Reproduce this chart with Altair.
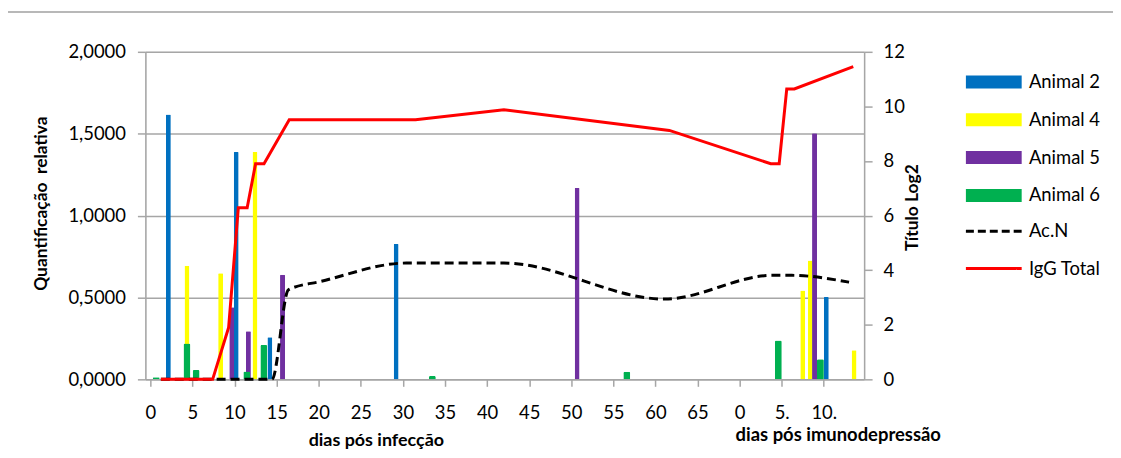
import altair as alt
import pandas as pd

FONT = "Lato"
FS = 18.5

# ---------------- data ----------------
tick_values = [0, 5, 10, 15, 20, 25, 30, 35, 40, 45, 50, 55, 60, 65, 70, 75, 80]
tick_labels = ["0", "5", "10", "15", "20", "25", "30", "35", "40", "45", "50",
               "55", "60", "65", "0", "5.", "10."]

series_names = ["Animal 2", "Animal 4", "Animal 5", "Animal 6"]
series_colors = ["#0070C0", "#FFFF00", "#7030A0", "#00B050"]

a2_days = [2.14, 10.2, 14.2, 29.2, 80.3]
a2_vals = [1.617, 1.388, 0.257, 0.827, 0.503]
a4_days = [4.35, 8.35, 12.43, 77.5, 78.4, 83.6]
a4_vals = [0.693, 0.648, 1.388, 0.543, 0.725, 0.178]
a5_days = [9.67, 11.65, 15.7, 50.7, 78.9]
a5_vals = [0.44, 0.294, 0.638, 1.169, 1.503]
a6_days = [0.7, 4.35, 5.44, 11.46, 13.48, 33.5, 56.6, 74.6, 79.6]
a6_vals = [0.012, 0.219, 0.057, 0.048, 0.209, 0.02, 0.047, 0.237, 0.122]

line_names = ["Ac.N", "IgG Total"]
line_colors = ["#000000", "#FF0000"]

acn_days = [1.25, 14.45, 16.4, 20.3, 30.4, 42.0, 61.1, 73.9, 76.2, 83.0]
acn_vals = [0, 0, 3.28, 3.59, 4.26, 4.26, 2.94, 3.81, 3.81, 3.56]
igg_days = [1.25, 7.4, 9.3, 10.45, 11.5, 12.5, 13.5, 16.5, 31.5, 42.0, 61.65,
            73.7, 74.7, 75.6, 76.5, 83.5]
igg_vals = [0, 0, 1.9, 6.29, 6.29, 7.9, 7.9, 9.51, 9.51, 9.88, 9.12, 7.9, 7.9,
            10.64, 10.64, 11.46]

left_ticks = [0, 0.5, 1.0, 1.5, 2.0]
right_ticks = [0, 2, 4, 6, 8, 10, 12]

# ---------------- tables ----------------
bar_rows = []
for name, days, vals in zip(series_names, [a2_days, a4_days, a5_days, a6_days],
                            [a2_vals, a4_vals, a5_vals, a6_vals]):
    for d, v in zip(days, vals):
        bar_rows.append({"dia": d, "valor": v, "serie": name})
bars_df = pd.DataFrame(bar_rows)

acn_df = pd.DataFrame({"dia": acn_days, "titulo": acn_vals, "serie": line_names[0],
                       "ordem": list(range(len(acn_days)))})
igg_df = pd.DataFrame({"dia": igg_days, "titulo": igg_vals, "serie": line_names[1],
                       "ordem": list(range(len(igg_days)))})

label_expr = "[" + ",".join("'%s'" % t for t in tick_labels) + "][round(datum.value/5)]"

GRID = "#A6A6A6"

x_enc = alt.X(
    "dia:Q",
    scale=alt.Scale(domain=[0, 84.2], nice=False, zero=False),
    axis=alt.Axis(
        values=tick_values, labelExpr=label_expr, grid=False,
        domainColor=GRID, domainWidth=1.5, tickColor=GRID, tickWidth=1.5,
        tickSize=7, labelPadding=17, labelFont=FONT, labelFontSize=FS,
        labelColor="#000000",
        title="dias pós infecção", titleFont=FONT, titleFontSize=18,
        titleFontWeight="bold", titleX=231.5, titleY=66,
        titleBaseline="alphabetic", titleAlign="center", titleColor="#000000",
    ),
)

y_left = alt.Y(
    "valor:Q",
    scale=alt.Scale(domain=[0, 2], nice=False),
    axis=alt.Axis(
        values=left_ticks,
        labelExpr="replace(format(datum.value, '.4f'), '.', ',')",
        grid=True, gridColor=GRID, gridWidth=1.5,
        domainColor=GRID, domainWidth=1.5, tickColor=GRID, tickWidth=1.5,
        tickSize=8, labelPadding=12, labelFont=FONT, labelFontSize=FS,
        labelColor="#000000",
        title="Quantificação\u00a0 relativa", titleFont=FONT, titleFontSize=17.5,
        titleFontWeight="bold", titleAngle=-90, titleX=-104, titleY=152,
        titleAlign="center", titleBaseline="middle", titleColor="#000000",
    ),
)

color_enc = alt.Color(
    "serie:N",
    scale=alt.Scale(domain=series_names, range=series_colors),
    legend=alt.Legend(
        title=None, orient="none", legendX=843, legendY=21,
        symbolType="M-4.31,-1H4.31V1H-4.31Z", symbolSize=169,
        symbolStrokeWidth=0, symbolOpacity=1, labelOffset=26,
        labelFont=FONT, labelFontSize=FS, labelColor="#000000",
        rowPadding=19, padding=0,
    ),
)

bars_main = alt.Chart(bars_df).transform_filter(
    alt.datum.serie != "Animal 6"
).mark_bar(size=5, opacity=1, cornerRadiusEnd=1).encode(x=x_enc, y=y_left, color=color_enc)

bars_green = alt.Chart(bars_df).transform_filter(
    alt.datum.serie == "Animal 6"
).mark_bar(size=7, opacity=1, cornerRadiusEnd=1.5).encode(x=x_enc, y=y_left, color=color_enc)

# chart-area frame (decoration)
frame_df = pd.DataFrame([{"k": 1}])
frame_top = alt.Chart(frame_df).mark_rule(color="#A0A0A0", strokeWidth=1.5).encode(
    x=alt.value(-140), x2=alt.value(980), y=alt.value(-40))
frame_left = alt.Chart(frame_df).mark_rule(color="#A0A0A0", strokeWidth=1.5).encode(
    x=alt.value(-140), x2=alt.value(-140), y=alt.value(-40), y2=alt.value(420))

sub_title = alt.Chart(pd.DataFrame([{"t": "dias pós imunodepressão"}])).mark_text(
    font=FONT, fontSize=18.5, fontWeight="bold", align="center",
    baseline="alphabetic", color="#000000",
).encode(text="t:N", x=alt.value(696), y=alt.value(391))

left_layer = alt.layer(frame_top, frame_left, bars_main, bars_green, sub_title)

y_right = alt.Y(
    "titulo:Q",
    scale=alt.Scale(domain=[0, 12], nice=False),
    axis=alt.Axis(
        orient="right", values=right_ticks, grid=False,
        domainColor=GRID, domainWidth=1.5, tickColor=GRID, tickWidth=1.5,
        tickSize=8, labelPadding=11, labelFont=FONT, labelFontSize=FS,
        labelColor="#000000",
        title="Título Log2", titleFont=FONT, titleFontSize=17.5,
        titleFontWeight="bold", titleAngle=-90, titleX=49, titleY=156,
        titleAlign="center", titleBaseline="middle", titleColor="#000000",
    ),
)


def line_legend(y, dash):
    return alt.Legend(
        title=None, orient="none", legendX=843, legendY=y,
        symbolType="M-4.31,0H4.31", symbolSize=169, symbolStrokeWidth=3,
        symbolFillColor="transparent", symbolDash=dash, labelOffset=26,
        labelFont=FONT, labelFontSize=FS, labelColor="#000000", padding=0,
    )


line_acn = alt.Chart(acn_df).mark_line(
    strokeWidth=3, interpolate="monotone", strokeDash=[9, 5]
).encode(
    x=x_enc, y=y_right, order="ordem:Q",
    stroke=alt.Stroke("serie:N",
                      scale=alt.Scale(domain=[line_names[0]], range=[line_colors[0]]),
                      legend=line_legend(171, [8, 4])),
)

line_igg = alt.Chart(igg_df).mark_line(strokeWidth=3).encode(
    x=x_enc, y=y_right, order="ordem:Q",
    stroke=alt.Stroke("serie:N",
                      scale=alt.Scale(domain=[line_names[1]], range=[line_colors[1]]),
                      legend=line_legend(208.5, [1, 0])),
)

lines = alt.layer(line_acn, line_igg).resolve_scale(stroke="independent")

chart = alt.layer(left_layer, lines).resolve_scale(
    y="independent", color="independent", stroke="independent"
).properties(
    width=722, height=329,
    autosize=alt.AutoSizeParams(type="none"),
    padding={"left": 138, "top": 43, "right": 250, "bottom": 78},
).configure_view(stroke=None).configure(background="#FFFFFF")

chart.save("out.html", embed_options={"renderer": "svg", "actions": False})
